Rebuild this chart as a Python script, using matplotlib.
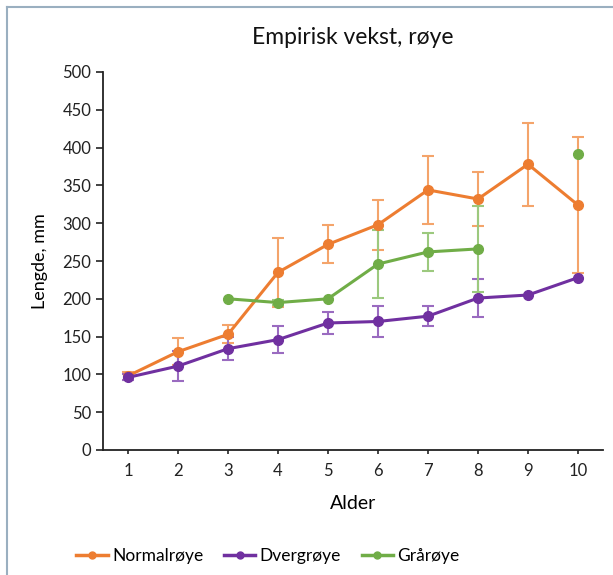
import numpy as np
import matplotlib.pyplot as plt
from matplotlib.lines import Line2D

plt.rcParams['font.family'] = ['Lato', 'DejaVu Sans']

alder = [1, 2, 3, 4, 5, 6, 7, 8, 9, 10]

# Normalrøye
normal = [98, 130, 153, 235, 272, 298, 344, 332, 378, 324]
normal_err = [5, 18, 12, 46, 25, 33, 45, 36, 55, 90]

# Dvergrøye
dverg = [96, 111, 134, 146, 168, 170, 177, 201, 205, 228]
dverg_err = [4, 20, 15, 18, 14, 20, 13, 25, 0, 0]

# Grårøye (no data at age 1, 2 and 9)
graa = [np.nan, np.nan, 200, 195, 200, 246, 262, 266, np.nan, 392]
graa_err = [0, 0, 0, 3, 0, 45, 25, 57, 0, 0]

c_orange = '#ED7D31'
c_purple = '#7030A0'
c_green = '#70AD47'

fig = plt.figure(figsize=(6.13, 5.75), dpi=100)
ax = fig.add_axes([103 / 613, 1 - 450 / 575, 500 / 613, 378 / 575])

series = [
    ('Normalrøye', normal, normal_err, c_orange, '#F4A46B'),
    ('Dvergrøye', dverg, dverg_err, c_purple, '#9A6BC0'),
    ('Grårøye', graa, graa_err, c_green, '#9CC97E'),
]

for name, vals, err, col, ecol in series:
    vals = np.array(vals, dtype=float)
    err = np.array(err, dtype=float)
    ok = ~np.isnan(vals) & (err > 0)
    ax.errorbar(np.array(alder)[ok], vals[ok], yerr=err[ok], fmt='none',
                ecolor=ecol, elinewidth=1.5, capsize=4, capthick=1.5, zorder=2)
    ax.plot(alder, vals, color=col, lw=2.2, marker='o', ms=7, zorder=3)

ax.set_xlim(0.5, 10.5)
ax.set_ylim(0, 500)
ax.set_xticks(alder)
ax.set_yticks(range(0, 501, 50))
ax.tick_params(axis='both', labelsize=12, colors='#222222', width=1.2)
ax.tick_params(axis='y', length=5)
ax.tick_params(axis='x', length=3, pad=6)
for s in ['top', 'right']:
    ax.spines[s].set_visible(False)
for s in ['left', 'bottom']:
    ax.spines[s].set_linewidth(1.3)
    ax.spines[s].set_color('#222222')

ax.set_title('Empirisk vekst, røye', fontsize=16.5, pad=20, color='#111111')
ax.set_ylabel('Lengde, mm', fontsize=13, labelpad=10)
ax.set_xlabel('Alder', fontsize=14, labelpad=12)

handles = [Line2D([0], [0], color=c, lw=2.5, marker='o', ms=5)
           for _, _, _, c, _ in series]
fig.legend(handles, [s[0] for s in series], loc='center', ncol=3,
           bbox_to_anchor=(268 / 613, 1 - 556 / 575), frameon=False,
           fontsize=12.5, handlelength=1.8, handletextpad=0.25, columnspacing=1.2)

# chart border (top and left visible)
fig.add_artist(Line2D([7 / 613, 7 / 613], [0, 1 - 7 / 575], color='#9AAFC0', lw=1.5))
fig.add_artist(Line2D([7 / 613, 1], [1 - 7 / 575, 1 - 7 / 575], color='#9AAFC0', lw=1.5))

fig.savefig('out.png', dpi=100)
